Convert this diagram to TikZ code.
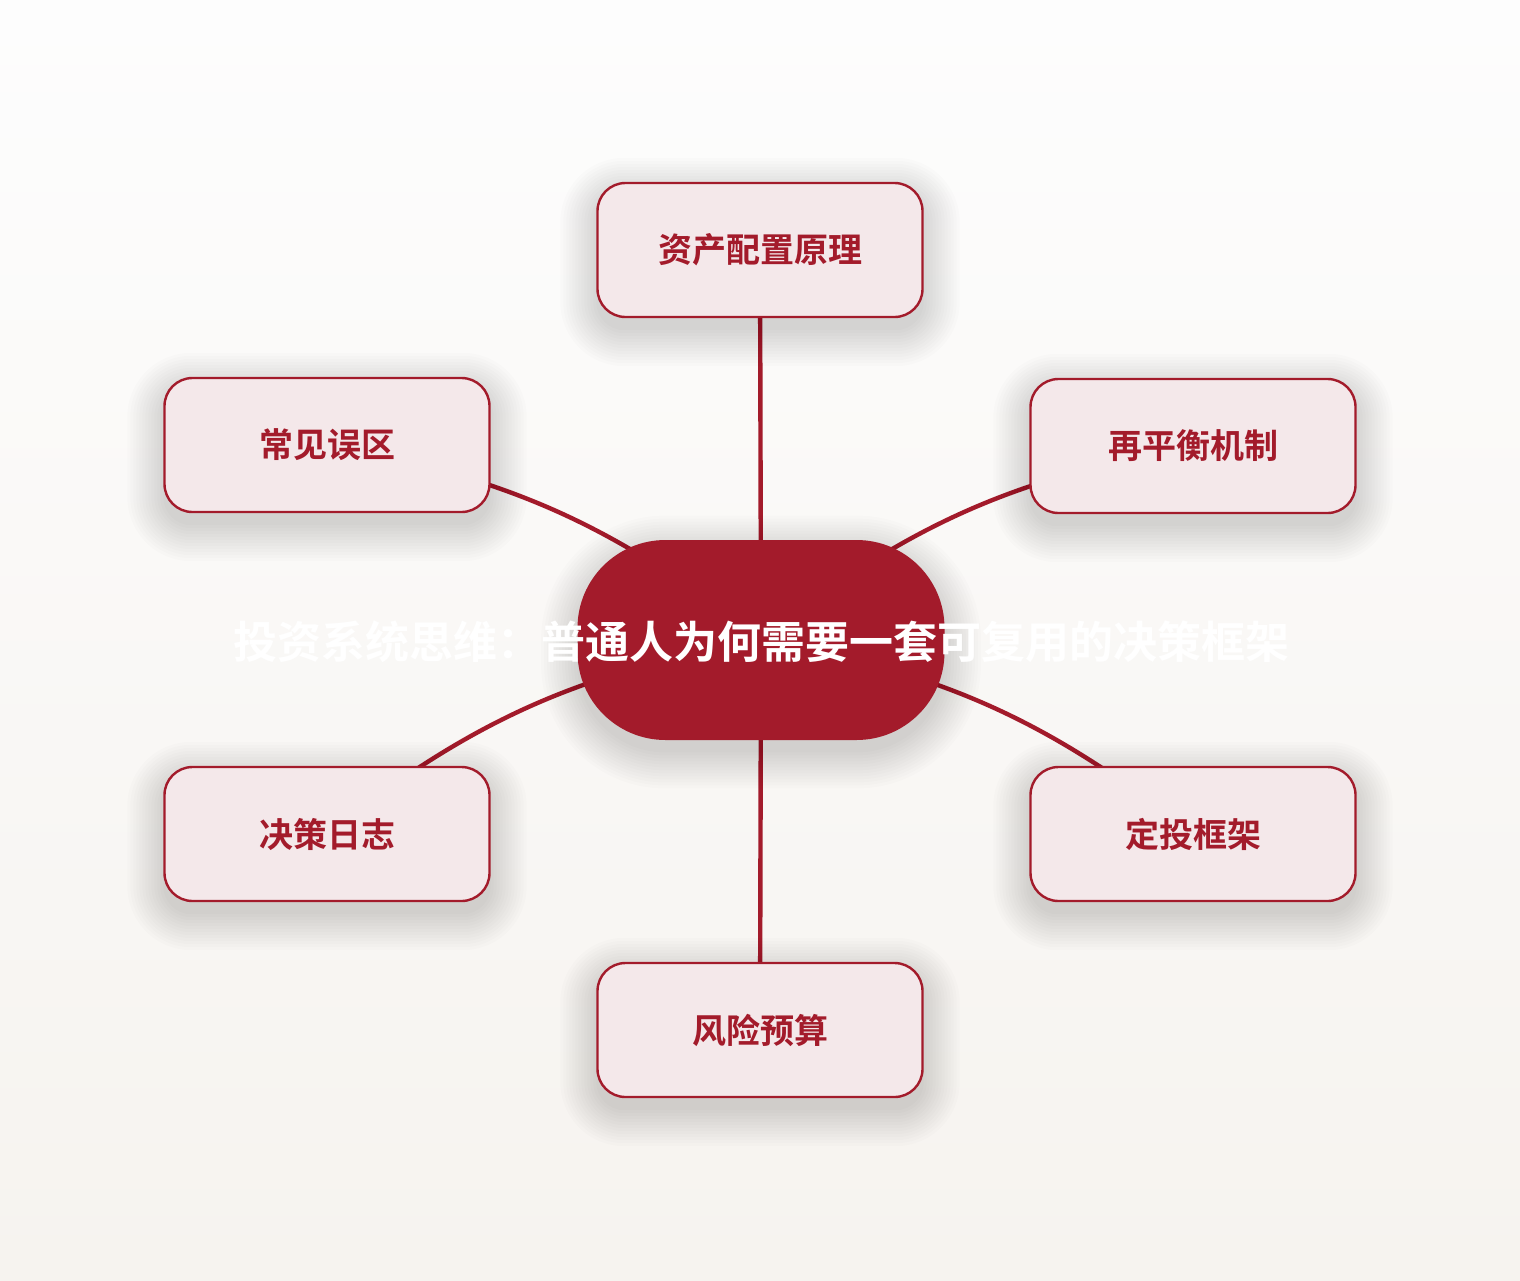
\documentclass[tikz,border=0pt]{standalone}
\usepackage{fontspec}
\newfontfamily\cjk{Noto Sans CJK SC}[BoldFont={Noto Sans CJK SC Bold}]
\pgfdeclarelayer{back}
\pgfdeclarelayer{glow}
\pgfsetlayers{back,glow,main}
\definecolor{wine}{HTML}{A31B2B}
\definecolor{blush}{HTML}{F4E8EA}
\definecolor{paperTop}{HTML}{FDFDFD}
\definecolor{paperBot}{HTML}{F6F3EF}

\begin{document}
\begin{tikzpicture}[x=0.5pt,y=-0.5pt,
        topic/.style={draw=wine, line width=1.2pt, fill=blush, rounded corners=14pt,
            minimum width=162.5pt, minimum height=67pt, text=wine,
            font=\cjk\bfseries\fontsize{17}{20}\selectfont},
        link/.style={draw=wine, line width=2.2pt}]
        \begin{pgfonlayer}{back}
            \shade[top color=paperTop, bottom color=paperBot] (0,0) rectangle (1520,1280);
        \end{pgfonlayer}

        \node[fill=wine, rounded corners=44pt, minimum width=183.5pt, minimum height=100pt] (hub) at (761,640) {};
        \node[text=white, font=\cjk\bfseries\fontsize{22}{26}\selectfont] (title) at (761,642) {投资系统思维：普通人为何需要一套可复用的决策框架};

        \node[topic] (top) at (760,250) {资产配置原理};
        \node[topic] (tl) at (327,445) {常见误区};
        \node[topic] (tr) at (1193,446) {再平衡机制};
        \node[topic] (bl) at (327,834) {决策日志};
        \node[topic] (br) at (1193,834) {定投框架};
        \node[topic] (bot) at (760,1030) {风险预算};

        \begin{pgfonlayer}{back}
            \draw[link]
                (hub.center) edge (top.center)
                (hub.center) edge [bend right=14] (tl.center)
                (hub.center) edge [bend left=14] (tr.center)
                (hub.center) edge [bend right=14] (bl.center)
                (hub.center) edge [bend left=14] (br.center)
                (hub.center) edge (bot.center)
            ;
        \end{pgfonlayer}

        % soft shadows under every box
        \begin{pgfonlayer}{glow}
            \foreach \n/\r in {hub/44,top/14,tl/14,tr/14,bl/14,br/14,bot/14}
                \foreach \g in {0,3,...,36}
                    \fill[black, opacity=0.012, rounded corners=\r pt+0.5*\g pt]
                        ([shift={(-\g,12-\g)}]\n.north west) rectangle ([shift={(\g,12+\g)}]\n.south east);
        \end{pgfonlayer}
    \end{tikzpicture}
\end{document}
